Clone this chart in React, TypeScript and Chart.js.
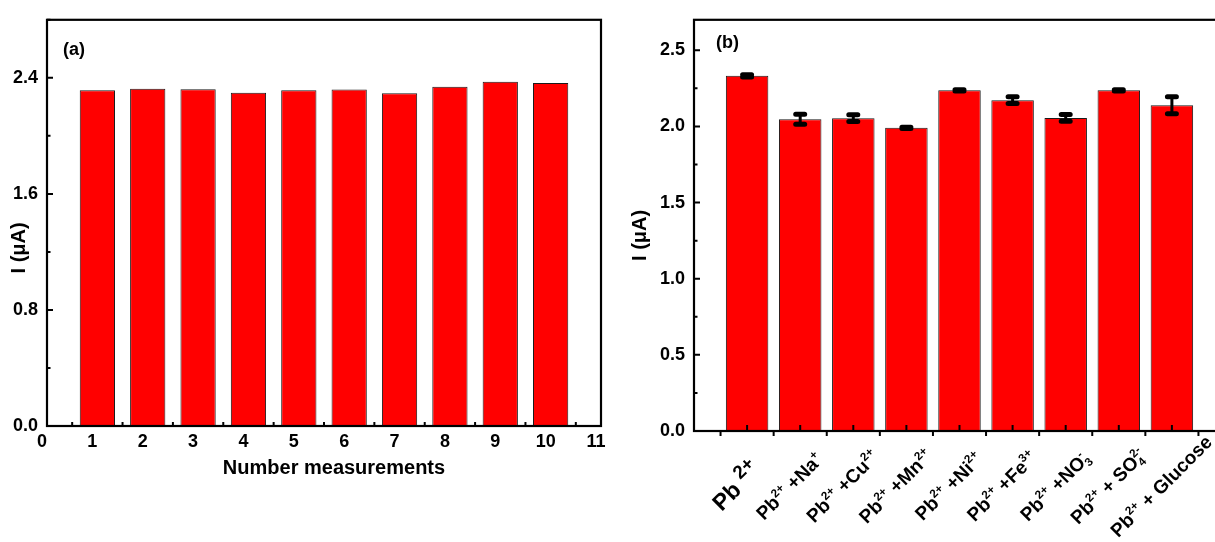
import { useEffect, useRef } from "react";
import { Chart, registerables } from "chart.js";

Chart.register(...registerables);

// (a) repeatability: current of ten successive measurements
const measurementNumbers = [1, 2, 3, 4, 5, 6, 7, 8, 9, 10];
const measurementCurrents = [2.314, 2.325, 2.322, 2.298, 2.314, 2.32, 2.293, 2.339, 2.373, 2.364];
const measurementYTicks = [0, 0.8, 1.6, 2.4];

// (b) interference study: Pb2+ alone and with added species (^{} = superscript, _{} = subscript)
const interferentLabels = [
  "Pb ^{2+}",
  "Pb^{2+} +Na^{+}",
  "Pb^{2+} +Cu^{2+}",
  "Pb^{2+} +Mn^{2+}",
  "Pb^{2+} +Ni^{2+}",
  "Pb^{2+} +Fe^{3+}",
  "Pb^{2+} +NO_{3}^{-}",
  "Pb^{2+} + SO_{4}^{2-}",
  "Pb^{2+} + Glucose",
];
const interferentCurrents = [2.332, 2.047, 2.054, 1.991, 2.237, 2.172, 2.056, 2.237, 2.139];
const interferentErrors = [0.008, 0.033, 0.022, 0.004, 0.004, 0.022, 0.022, 0.004, 0.056];
const interferentYTicks = [0, 0.5, 1.0, 1.5, 2.0, 2.5];

const FONT = "'Liberation Sans', Arial, Helvetica, sans-serif";
const RED = "#ff0000";
const INK = "#000000";
const TICK_SIZE = 18;

const bold = (size: number) => `bold ${size}px ${FONT}`;

// Box frame plus inward/outward tick marks, drawn over the bars
function frameTicksPlugin(o: {
  yMajor: number;
  yMinor: number;
  xInward: number[];
  xInwardLen: number;
  xOutward: number[];
  xOutwardLen: number;
}) {
  return {
    id: "frameTicks",
    afterDatasetsDraw(chart: any) {
      const { ctx, chartArea: a, scales } = chart;
      const xs = scales.x;
      const ys = scales.y;
      ctx.save();
      ctx.strokeStyle = INK;
      ctx.lineWidth = 2;
      ctx.beginPath();
      const nMinor = Math.floor(ys.max / o.yMinor + 1e-6);
      const ratio = Math.round(o.yMajor / o.yMinor);
      for (let k = 0; k <= nMinor; k++) {
        const py = ys.getPixelForValue(k * o.yMinor);
        const len = k % ratio === 0 ? 6 : 3.5;
        ctx.moveTo(a.left, py);
        ctx.lineTo(a.left + len, py);
      }
      for (const v of o.xInward) {
        const px = xs.getPixelForValue(v);
        ctx.moveTo(px, a.bottom);
        ctx.lineTo(px, a.bottom - o.xInwardLen);
      }
      for (const v of o.xOutward) {
        const px = xs.getPixelForValue(v);
        ctx.moveTo(px, a.bottom);
        ctx.lineTo(px, a.bottom + o.xOutwardLen);
      }
      ctx.stroke();
      ctx.lineWidth = 2.2;
      ctx.strokeRect(a.left, a.top, a.right - a.left, a.bottom - a.top);
      ctx.restore();
    },
  };
}

// Axis titles and the panel letter
function textPlugin(o: {
  panel: string;
  panelDx: number;
  panelDy: number;
  yTitleDx: number;
  yTitleDy: number;
  xTitle?: string;
  xTitleDx?: number;
  xTitleDy?: number;
}) {
  return {
    id: "panelText",
    afterDraw(chart: any) {
      const { ctx, chartArea: a } = chart;
      ctx.save();
      ctx.fillStyle = INK;
      ctx.textBaseline = "middle";
      ctx.font = bold(18);
      ctx.textAlign = "left";
      ctx.fillText(o.panel, a.left + o.panelDx, a.top + o.panelDy);

      ctx.font = bold(20);
      ctx.textAlign = "center";
      ctx.save();
      ctx.translate(a.left - o.yTitleDx, (a.top + a.bottom) / 2 + o.yTitleDy);
      ctx.rotate(-Math.PI / 2);
      ctx.fillText("I (\u03bcA)", 0, 0);
      ctx.restore();

      if (o.xTitle) {
        ctx.fillText(o.xTitle, (a.left + a.right) / 2 + (o.xTitleDx || 0), a.bottom + (o.xTitleDy || 0));
      }
      ctx.restore();
    },
  };
}

// Vertical error bars with caps
const errorBarPlugin = {
  id: "errorBars",
  afterDatasetsDraw(chart: any) {
    const { ctx, scales } = chart;
    const xs = scales.x;
    const ys = scales.y;
    ctx.save();
    ctx.strokeStyle = INK;
    ctx.lineCap = "round";
    interferentCurrents.forEach((v, i) => {
      const px = xs.getPixelForValue(i + 1);
      const top = ys.getPixelForValue(v + interferentErrors[i]);
      const bot = ys.getPixelForValue(v - interferentErrors[i]);
      ctx.lineWidth = 3;
      ctx.beginPath();
      ctx.moveTo(px, top);
      ctx.lineTo(px, bot);
      ctx.stroke();
      ctx.lineWidth = 5;
      ctx.beginPath();
      ctx.moveTo(px - 4.5, top);
      ctx.lineTo(px + 4.5, top);
      ctx.moveTo(px - 4.5, bot);
      ctx.lineTo(px + 4.5, bot);
      ctx.stroke();
    });
    ctx.restore();
  },
};

type Seg = { text: string; kind: "base" | "sup" | "sub" };

function parseLabel(src: string): Seg[] {
  const out: Seg[] = [];
  const re = /\^\{([^}]*)\}|_\{([^}]*)\}|([^\^_]+)/g;
  let m: RegExpExecArray | null;
  while ((m = re.exec(src))) {
    if (m[1] !== undefined) out.push({ text: m[1], kind: "sup" });
    else if (m[2] !== undefined) out.push({ text: m[2], kind: "sub" });
    else out.push({ text: m[3], kind: "base" });
  }
  return out;
}

// Rotated category labels with chemical super/subscripts
const rotatedLabelPlugin = {
  id: "rotatedLabels",
  afterDraw(chart: any) {
    const { ctx, chartArea: a, scales } = chart;
    const xs = scales.x;
    ctx.save();
    ctx.fillStyle = INK;
    ctx.textAlign = "left";
    ctx.textBaseline = "alphabetic";
    interferentLabels.forEach((label, i) => {
      const size = i === 0 ? 23 : 19;
      const smallScale = i === 0 ? 0.82 : 0.62;
      const segs = parseLabel(label);
      const placed: any[] = [];
      let pos = 0;
      segs.forEach((s, k) => {
        const fs = s.kind === "base" ? size : size * smallScale;
        ctx.font = bold(fs);
        const w = ctx.measureText(s.text).width;
        let x = pos;
        const prev = placed[k - 1];
        if (s.kind === "sup" && prev && prev.kind === "sub") x = prev.x;
        const dy = s.kind === "sup" ? -0.42 * size : s.kind === "sub" ? 0.22 * size : 0;
        placed.push({ ...s, x, w, fs, dy });
        pos = Math.max(pos, x + w);
      });
      const cx = xs.getPixelForValue(i + 1) - 11;
      const cy = a.bottom + 55;
      ctx.save();
      ctx.translate(cx, cy);
      ctx.rotate(-Math.PI / 4);
      placed.forEach((p) => {
        ctx.font = bold(p.fs);
        ctx.fillText(p.text, p.x - pos / 2, p.dy + 0.36 * size);
      });
      ctx.restore();
    });
    ctx.restore();
  },
};

const W_A = 620;
const W_B = 620;
const H = 542;

export default function App() {
  const aRef = useRef<HTMLCanvasElement | null>(null);
  const bRef = useRef<HTMLCanvasElement | null>(null);

  useEffect(() => {
    if (!aRef.current || !bRef.current) return;

    const chartA = new Chart(aRef.current, {
      type: "bar",
      data: {
        datasets: [
          {
            data: measurementNumbers.map((n, i) => ({ x: n, y: measurementCurrents[i] })),
            backgroundColor: RED,
            borderColor: "#1a1a1a",
            borderWidth: 1,
            barPercentage: 0.7,
            categoryPercentage: 1,
          },
        ],
      },
      options: {
        responsive: false,
        animation: false,
        events: [],
        layout: { padding: { top: 14, right: 19, left: 0, bottom: 0 } },
        plugins: { legend: { display: false }, tooltip: { enabled: false } },
        scales: {
          x: {
            type: "linear",
            offset: false,
            min: 0,
            max: 11,
            grid: { display: false, drawTicks: false },
            border: { display: false },
            ticks: {
              stepSize: 1,
              color: INK,
              font: { family: FONT, size: TICK_SIZE, weight: "bold" },
              padding: 5,
              labelOffset: -5,
              maxRotation: 0,
              autoSkip: false,
            },
            afterFit: (scale: any) => {
              scale.height = 116;
            },
          },
          y: {
            min: 0,
            max: 2.8,
            grid: { display: false, drawTicks: false },
            border: { display: false },
            ticks: {
              color: INK,
              font: { family: FONT, size: TICK_SIZE, weight: "bold" },
              padding: 9,
              callback: (v: any) => Number(v).toFixed(1),
            },
            afterBuildTicks: (scale: any) => {
              scale.ticks = measurementYTicks.map((value) => ({ value }));
            },
            afterFit: (scale: any) => {
              scale.width = 47;
            },
          },
        },
      },
      plugins: [
        frameTicksPlugin({
          yMajor: 0.8,
          yMinor: 0.4,
          xInward: measurementNumbers.map((n) => n - 0.5).concat([10.5]),
          xInwardLen: 4,
          xOutward: [],
          xOutwardLen: 0,
        }),
        textPlugin({
          panel: "(a)",
          panelDx: 16,
          panelDy: 30,
          yTitleDx: 28,
          yTitleDy: 25,
          xTitle: "Number measurements",
          xTitleDx: 10,
          xTitleDy: 42,
        }),
      ],
    } as any);

    const chartB = new Chart(bRef.current, {
      type: "bar",
      data: {
        datasets: [
          {
            data: interferentCurrents.map((v, i) => ({ x: i + 1, y: v })),
            backgroundColor: RED,
            borderColor: "#1a1a1a",
            borderWidth: 1,
            barPercentage: 0.8,
            categoryPercentage: 1,
          },
        ],
      },
      options: {
        responsive: false,
        animation: false,
        events: [],
        layout: { padding: { top: 12, right: 15, left: 0, bottom: 0 } },
        plugins: { legend: { display: false }, tooltip: { enabled: false } },
        scales: {
          x: {
            type: "linear",
            offset: false,
            min: 0,
            max: interferentLabels.length + 1,
            grid: { display: false, drawTicks: false },
            border: { display: false },
            ticks: { display: false },
            afterFit: (scale: any) => {
              scale.height = 111;
            },
          },
          y: {
            min: 0,
            max: 2.7,
            grid: { display: false, drawTicks: false },
            border: { display: false },
            ticks: {
              color: INK,
              font: { family: FONT, size: TICK_SIZE, weight: "bold" },
              padding: 9,
              callback: (v: any) => Number(v).toFixed(1),
            },
            afterBuildTicks: (scale: any) => {
              scale.ticks = interferentYTicks.map((value) => ({ value }));
            },
            afterFit: (scale: any) => {
              scale.width = 74;
            },
          },
        },
      },
      plugins: [
        errorBarPlugin,
        frameTicksPlugin({
          yMajor: 0.5,
          yMinor: 0.25,
          xInward: interferentLabels.map((_, i) => i + 1),
          xInwardLen: 6,
          xOutward: interferentLabels.map((_, i) => i + 0.5).concat([interferentLabels.length + 0.5]),
          xOutwardLen: 5,
        }),
        rotatedLabelPlugin,
        textPlugin({
          panel: "(b)",
          panelDx: 22,
          panelDy: 23,
          yTitleDx: 54,
          yTitleDy: 10,
        }),
      ],
    } as any);

    return () => {
      chartA.destroy();
      chartB.destroy();
    };
  }, []);

  return (
    <div
      style={{
        position: "fixed",
        left: 0,
        top: 0,
        width: 1215,
        height: H,
        overflow: "hidden",
        background: "#ffffff",
      }}
    >
      <canvas ref={aRef} width={W_A} height={H} style={{ position: "absolute", left: 0, top: 0 }} />
      <canvas ref={bRef} width={W_B} height={H} style={{ position: "absolute", left: 620, top: 0 }} />
    </div>
  );
}
